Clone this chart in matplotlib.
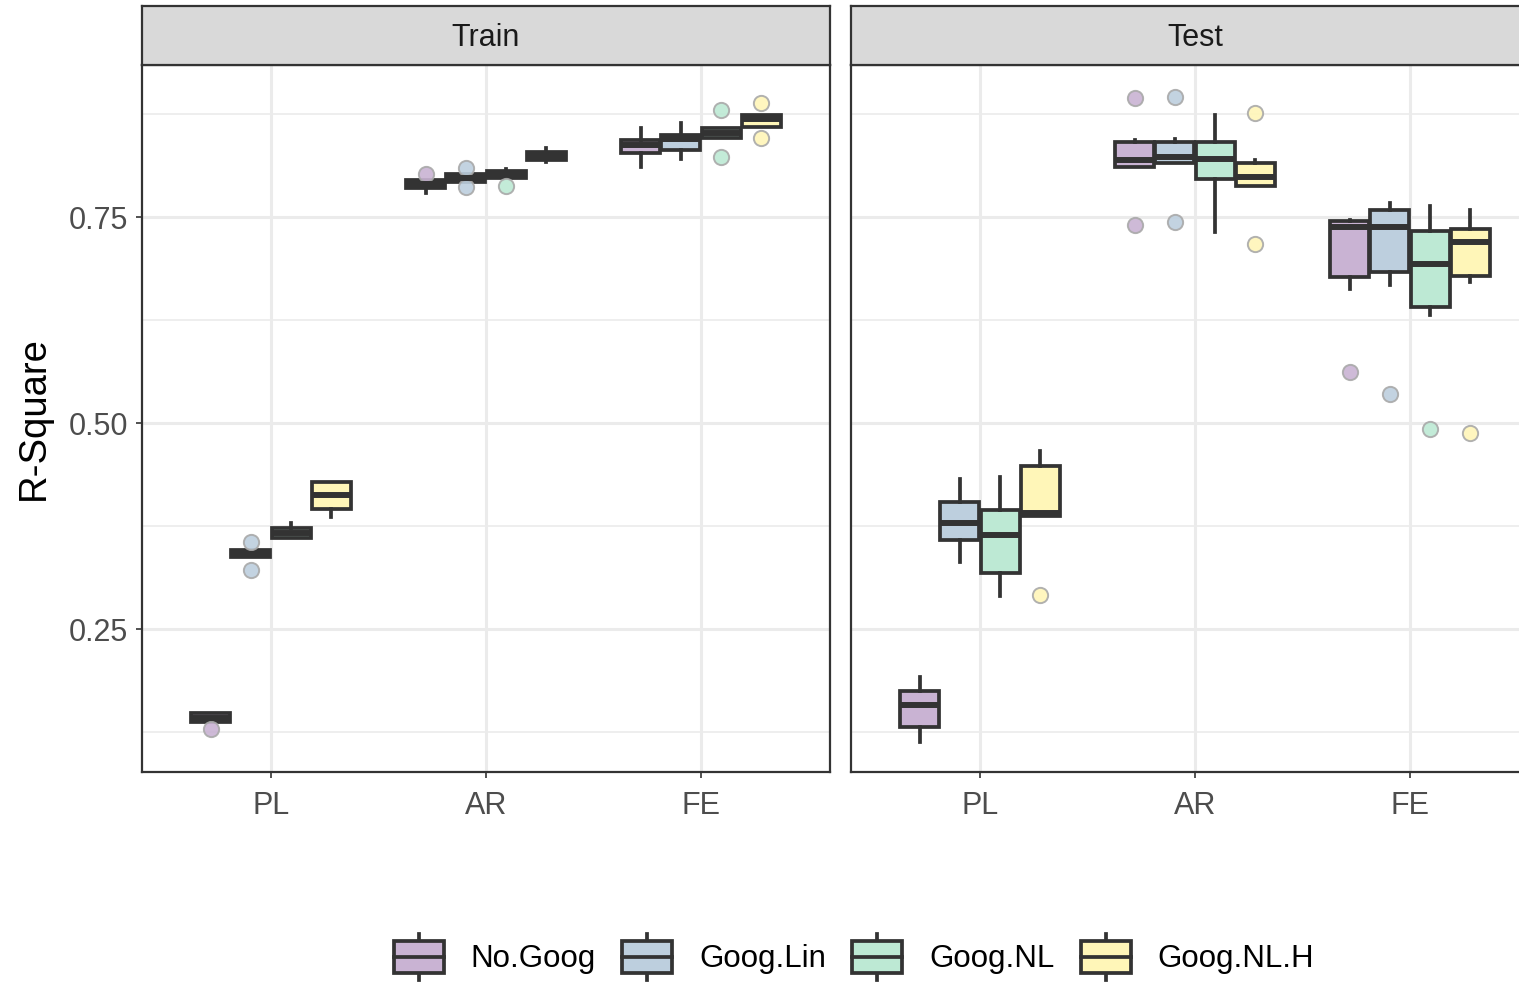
import numpy as np
import matplotlib
matplotlib.use("Agg")
import matplotlib.pyplot as plt
from matplotlib.patches import Rectangle
from matplotlib.lines import Line2D
from matplotlib.legend_handler import HandlerBase

plt.rcParams['font.family'] = ['Liberation Sans', 'DejaVu Sans']

# ---- data ----
categories = ["PL", "AR", "FE"]
groups = ["No.Goog", "Goog.Lin", "Goog.NL", "Goog.NL.H"]
colors = ["#C9B3D3", "#BDCFDE", "#BDE9D4", "#FFF6B8"]

# rows = category (PL, AR, FE), columns = group
train_q1 = [[0.137, 0.337, 0.361, 0.396], [0.785, 0.792, 0.797, 0.819], [0.828, 0.831, 0.846, 0.859]]
train_med = [[0.142, 0.341, 0.367, 0.413], [0.790, 0.797, 0.802, 0.824], [0.837, 0.845, 0.852, 0.869]]
train_q3 = [[0.148, 0.346, 0.373, 0.428], [0.795, 0.802, 0.806, 0.829], [0.843, 0.850, 0.858, 0.874]]
train_lo = [[0.137, 0.337, 0.361, 0.386], [0.779, 0.792, 0.797, 0.817], [0.811, 0.820, 0.846, 0.859]]
train_hi = [[0.148, 0.346, 0.379, 0.428], [0.795, 0.802, 0.808, 0.834], [0.858, 0.864, 0.858, 0.874]]
train_out = [[[0.129], [0.356, 0.322], [], []],
             [[0.802], [0.809, 0.786], [0.788], []],
             [[], [], [0.880, 0.823], [0.888, 0.846]]]

test_q1 = [[0.131, 0.358, 0.318, 0.387], [0.811, 0.816, 0.796, 0.788], [0.677, 0.683, 0.641, 0.678]]
test_med = [[0.158, 0.379, 0.364, 0.391], [0.819, 0.823, 0.820, 0.799], [0.738, 0.738, 0.693, 0.720]]
test_q3 = [[0.175, 0.404, 0.394, 0.448], [0.841, 0.841, 0.841, 0.816], [0.745, 0.758, 0.733, 0.735]]
test_lo = [[0.113, 0.331, 0.290, 0.387], [0.811, 0.816, 0.732, 0.788], [0.663, 0.667, 0.631, 0.671]]
test_hi = [[0.192, 0.432, 0.434, 0.466], [0.843, 0.845, 0.874, 0.819], [0.746, 0.767, 0.763, 0.758]]
test_out = [[[], [], [], [0.291]],
            [[0.894, 0.740], [0.896, 0.744], [], [0.876, 0.717]],
            [[0.562], [0.535], [0.493], [0.488]]]

EDGE = "#333333"
LW = 2.7
W, H = 1519, 984
fig = plt.figure(figsize=(W / 100, H / 100), dpi=100)

panel_top, panel_bot = 65, 772
strip_top = 6


def draw_panel(x_left, title, q1, med, q3, lo, hi, out):
    ax = fig.add_axes([x_left / W, 1 - panel_bot / H, 688 / W, (panel_bot - panel_top) / H])
    offsets = (np.arange(4) - 1.5) * 0.1875
    for g in range(4):
        stats, pos = [], []
        for c in range(3):
            stats.append(dict(med=med[c][g], q1=q1[c][g], q3=q3[c][g],
                              whislo=lo[c][g], whishi=hi[c][g], fliers=out[c][g]))
            pos.append(c + 1 + offsets[g])
        ax.bxp(stats, positions=pos, widths=0.18, patch_artist=True, showcaps=False,
               boxprops=dict(facecolor=colors[g], edgecolor=EDGE, linewidth=LW),
               medianprops=dict(color=EDGE, linewidth=4.3, solid_capstyle='butt'),
               whiskerprops=dict(color=EDGE, linewidth=LW),
               flierprops=dict(marker='o', markersize=11, markerfacecolor=colors[g],
                               markeredgecolor='#A9A9A9', markeredgewidth=1.4, alpha=0.9))
    ax.set_xlim(0.4, 3.6)
    ax.set_ylim(0.0765, 0.9345)
    ax.set_xticks([1, 2, 3])
    ax.set_xticklabels(categories)
    ax.set_yticks([0.25, 0.50, 0.75])
    ax.set_yticks([0.125, 0.375, 0.625, 0.875], minor=True)
    ax.grid(True, which='major', color='#EBEBEB', linewidth=2.2)
    ax.grid(True, which='minor', axis='y', color='#EBEBEB', linewidth=1.2)
    ax.set_axisbelow(True)
    ax.tick_params(which='major', length=4, width=1.2, color=EDGE, labelsize=22,
                   labelcolor='#4D4D4D', pad=6)
    ax.tick_params(axis='x', pad=10)
    ax.tick_params(which='minor', length=0)
    for s in ax.spines.values():
        s.set_color(EDGE)
        s.set_linewidth(1.6)
    # facet strip
    sax = fig.add_axes([x_left / W, 1 - panel_top / H, 688 / W, (panel_top - strip_top) / H])
    sax.set_facecolor('#D9D9D9')
    sax.set_xticks([])
    sax.set_yticks([])
    for s in sax.spines.values():
        s.set_color(EDGE)
        s.set_linewidth(1.6)
    sax.text(0.5, 0.46, title, ha='center', va='center', fontsize=22, color='#1A1A1A',
             transform=sax.transAxes)
    return ax


ax_train = draw_panel(142, "Train", train_q1, train_med, train_q3, train_lo, train_hi, train_out)
ax_test = draw_panel(851, "Test", test_q1, test_med, test_q3, test_lo, test_hi, test_out)
ax_test.set_yticklabels([])
ax_test.tick_params(axis='y', length=0)
ax_train.set_ylabel("R-Square", fontsize=27.5, labelpad=12)


class HandlerBox(HandlerBase):
    def create_artists(self, legend, orig_handle, xdescent, ydescent, width, height, fontsize, trans):
        x0, y0 = -xdescent, -ydescent
        bh = 0.7 * height
        by = y0 + (height - bh) / 2
        box = Rectangle((x0, by), width, bh, facecolor=orig_handle.get_facecolor(),
                        edgecolor=EDGE, linewidth=LW, transform=trans)
        med = Line2D([x0, x0 + width], [y0 + height / 2] * 2, color=EDGE, linewidth=LW, transform=trans)
        w1 = Line2D([x0 + width / 2] * 2, [y0, by], color=EDGE, linewidth=LW, transform=trans)
        w2 = Line2D([x0 + width / 2] * 2, [by + bh, y0 + height], color=EDGE, linewidth=LW, transform=trans)
        return [w1, w2, box, med]


handles = [Rectangle((0, 0), 1, 1, facecolor=c) for c in colors]
fig.legend(handles, groups, loc='center', bbox_to_anchor=(854 / W, 1 - 957 / H), ncol=4,
           frameon=False, fontsize=22.5, handlelength=1.6, handleheight=1.85,
           handletextpad=0.85, columnspacing=0.85,
           handler_map={Rectangle: HandlerBox()})

fig.savefig("out.png", dpi=100, facecolor='white')
